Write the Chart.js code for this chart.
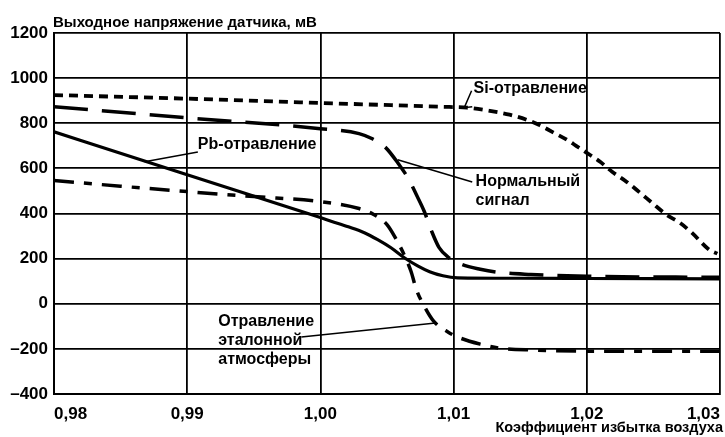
<!DOCTYPE html>
<html>
<head>
<meta charset="utf-8">
<script src="https://cdn.jsdelivr.net/npm/chart.js@4/dist/chart.umd.min.js"></script>
<style>
html,body{margin:0;padding:0;background:#fff;}
canvas{display:block;}
</style>
</head>
<body>
<canvas id="c" width="725" height="437"></canvas>
<script>
// ---- data ----
const xTickValues = [0.98, 0.99, 1.00, 1.01, 1.02, 1.03];
const xTickLabels = ['0,98', '0,99', '1,00', '1,01', '1,02', '1,03'];
const yTickValues = [-400, -200, 0, 200, 400, 600, 800, 1000, 1200];
const yTickLabels = ['–400', '–200', '0', '200', '400', '600', '800', '1000', '1200'];

const yTitle = 'Выходное напряжение датчика, мВ';
const xTitle = 'Коэффициент избытка воздуха';

// Pb poisoning (solid)
const pbX = [0.98, 0.99, 1.00, 1.0008, 1.0021, 1.0033, 1.0043, 1.0053, 1.0063, 1.0073, 1.0082, 1.0092, 1.0103, 1.015, 1.02, 1.03];
const pbY = [762, 572, 382, 366, 341, 315, 284, 248, 204, 168, 142, 124, 115, 113, 112, 110];

// Normal signal (long dashes)
const normX = [0.98, 0.99, 1.00, 1.0029, 1.0039, 1.0049, 1.0059, 1.0066, 1.0072, 1.0078, 1.0083, 1.0089, 1.0096, 1.0106, 1.012, 1.0134, 1.0158, 1.02, 1.03];
const normY = [873, 824, 776, 754, 731, 692, 617, 555, 484, 409, 329, 250, 206, 175, 153, 139, 130, 122, 117];

// Si poisoning (short dashes)
const siX = [0.98, 0.99, 1.00, 1.009, 1.011, 1.0127, 1.0142, 1.0155, 1.0164, 1.0174, 1.0185, 1.0192, 1.02, 1.021, 1.0219, 1.023, 1.024, 1.0249, 1.026, 1.027, 1.0279, 1.0292, 1.0298];
const siY = [925, 909, 890, 873, 869, 855, 838, 815, 793, 762, 727, 700, 669, 629, 585, 540, 492, 447, 394, 358, 314, 239, 222];

// Reference-atmosphere poisoning (dash-dot)
const atmX = [0.98, 0.985, 0.99, 0.995, 1.00, 1.0029, 1.0040, 1.0050, 1.0057, 1.0062, 1.0068, 1.0072, 1.0078, 1.0085, 1.0096, 1.0105, 1.012, 1.0135, 1.016, 1.02, 1.03];
const atmY = [546, 521, 497, 475, 453, 422, 396, 351, 285, 228, 144, 64, -11, -77, -126, -152, -179, -197, -205, -210, -210];

// annotation texts (anchor in data units) and leader lines
const notes = [
  {lines: ['Pb-отравление'], x: 0.9908, y: 704, leader: [[0.9908, 673], [0.9868, 629]]},
  {lines: ['Si-отравление'], x: 1.0115, y: 953, leader: [[1.01135, 944], [1.0108, 869], [1.0114, 873]]},
  {lines: ['Нормальный', 'сигнал'], x: 1.01165, y: 540, leader: [[1.0114, 540], [1.0058, 638]]},
  {lines: ['Отравление', 'эталонной', 'атмосферы'], x: 0.99233, y: -81, leader: [[0.99857, -147], [1.00865, -85]]}
];

const pts = (xs, ys) => xs.map((x, i) => ({x: x, y: ys[i]}));

const FONT = '"Liberation Sans", Arial, sans-serif';

const textPlugin = {
  id: 'texts',
  afterDatasetsDraw(chart) {
    const ctx = chart.ctx;
    const xs = chart.scales.x, ys = chart.scales.y;
    ctx.save();
    ctx.fillStyle = '#000';
    ctx.strokeStyle = '#000';
    // axis titles
    ctx.textBaseline = 'middle';
    ctx.textAlign = 'left';
    ctx.font = 'bold 15px ' + FONT;
    ctx.fillText(yTitle, 53, 23);
    ctx.textAlign = 'right';
    ctx.font = 'bold 14.5px ' + FONT;
    ctx.fillText(xTitle, 723, 428);
    // annotations
    ctx.font = 'bold 16px ' + FONT;
    ctx.textAlign = 'left';
    ctx.lineWidth = 1.5;
    notes.forEach(n => {
      const px = xs.getPixelForValue(n.x);
      const py = ys.getPixelForValue(n.y);
      n.lines.forEach((t, i) => ctx.fillText(t, px, py + i * 19));
      ctx.beginPath();
      n.leader.forEach((p, i) => {
        const lx = xs.getPixelForValue(p[0]), ly = ys.getPixelForValue(p[1]);
        if (i === 0) ctx.moveTo(lx, ly); else ctx.lineTo(lx, ly);
      });
      ctx.stroke();
    });
    ctx.restore();
  }
};

new Chart(document.getElementById('c'), {
  type: 'line',
  data: {
    datasets: [
      {label: 'Pb', data: pts(pbX, pbY), borderColor: '#000', borderWidth: 3.2},
      {label: 'Normal', data: pts(normX, normY), borderColor: '#000', borderWidth: 3.5, borderDash: [34, 14]},
      {label: 'Si', data: pts(siX, siY), borderColor: '#000', borderWidth: 3.8, borderDash: [9, 6]},
      {label: 'Atm', data: pts(atmX, atmY), borderColor: '#000', borderWidth: 3.5, borderDash: [20, 10, 8, 10]}
    ]
  },
  options: {
    responsive: false,
    animation: false,
    devicePixelRatio: 1,
    layout: {padding: {top: 33, right: 5, left: 0, bottom: 0}},
    elements: {
      point: {radius: 0},
      line: {cubicInterpolationMode: 'monotone', fill: false, borderCapStyle: 'butt'}
    },
    plugins: {legend: {display: false}, tooltip: {enabled: false}},
    scales: {
      x: {
        type: 'linear', min: 0.98, max: 1.03,
        afterBuildTicks: s => { s.ticks = xTickValues.map(v => ({value: v})); },
        afterFit: s => { s.height = 43; s.paddingLeft = 0; s.paddingRight = 0; },
        grid: {color: '#000', lineWidth: 1.8, drawTicks: false},
        border: {color: '#000', width: 2},
        ticks: {
          align: 'inner', padding: 10, color: '#000',
          font: {family: FONT, size: 17, weight: 'bold'},
          callback: (v, i) => xTickLabels[i]
        }
      },
      y: {
        type: 'linear', min: -400, max: 1200,
        afterBuildTicks: s => { s.ticks = yTickValues.map(v => ({value: v})); },
        afterFit: s => { s.width = 54; },
        grid: {color: '#000', lineWidth: 1.8, drawTicks: false},
        border: {color: '#000', width: 2},
        ticks: {
          padding: 6, color: '#000',
          font: {family: FONT, size: 17, weight: 'bold'},
          callback: (v, i) => yTickLabels[i]
        }
      }
    }
  },
  plugins: [textPlugin]
});
</script>
</body>
</html>
